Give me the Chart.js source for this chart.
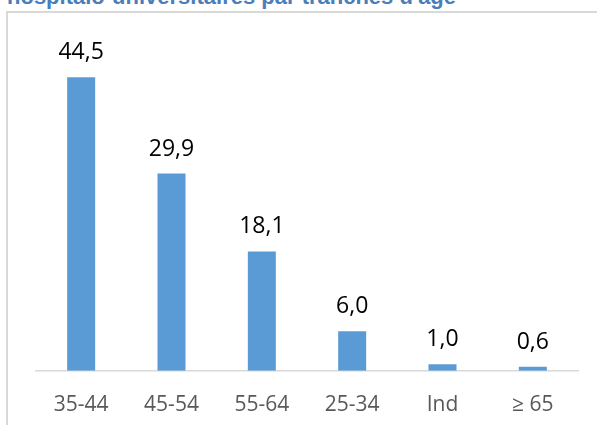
<!DOCTYPE html>
<html>
<head>
<meta charset="utf-8">
<script src="https://cdn.jsdelivr.net/npm/chart.js@4/dist/chart.umd.min.js"></script>
<style>
  html, body { margin:0; padding:0; width:597px; height:425px; overflow:hidden; background:#fff; position:relative; }
  #title { position:absolute; left:7px; top:-14px; font:bold 22px "Liberation Sans", Arial, sans-serif; line-height:22px; color:#4A7EBB; white-space:nowrap; }
  #frame { position:absolute; left:6px; top:11px; width:700px; height:500px; border-left:2px solid #d9d9d9; border-top:2px solid #d9d9d9; }
  #c { position:absolute; left:0; top:0; }
</style>
</head>
<body>
<div id="title">hospitalo-universitaires par tranches d'âge</div>
<div id="frame"></div>
<canvas id="c" width="597" height="442"></canvas>
<script>
const categories = ["35-44", "45-54", "55-64", "25-34", "Ind", "≥ 65"];
const values = [44.5, 29.9, 18.1, 6.0, 1.0, 0.6];

const FONT = '"Open Sans", "Noto Sans", sans-serif';

const valueLabels = {
  id: 'valueLabels',
  afterDatasetsDraw(chart) {
    const ctx = chart.ctx;
    const meta = chart.getDatasetMeta(0);
    ctx.save();
    ctx.font = '23px ' + FONT;
    ctx.fillStyle = '#000000';
    ctx.textAlign = 'center';
    ctx.textBaseline = 'alphabetic';
    meta.data.forEach((bar, i) => {
      const txt = values[i].toFixed(1).replace('.', ',');
      ctx.fillText(txt, bar.x, bar.y - 18);
    });
    ctx.restore();
  }
};

new Chart(document.getElementById('c'), {
  type: 'bar',
  data: {
    labels: categories,
    datasets: [{
      data: values,
      backgroundColor: '#5B9BD5',
      borderWidth: 0,
      barPercentage: 0.31,
      categoryPercentage: 1.0
    }]
  },
  options: {
    responsive: false,
    animation: false,
    events: [],
    layout: { padding: { left: 36, right: 19, top: 41, bottom: 10 } },
    plugins: { legend: { display: false }, tooltip: { enabled: false }, title: { display: false } },
    scales: {
      y: { display: false, min: 0, max: 50 },
      x: {
        grid: { display: false },
        border: { display: true, color: '#d9d9d9', width: 1.5 },
        ticks: { color: '#595959', font: { family: FONT, size: 21 }, padding: 14, maxRotation: 0 }
      }
    }
  },
  plugins: [valueLabels]
});
</script>
</body>
</html>
